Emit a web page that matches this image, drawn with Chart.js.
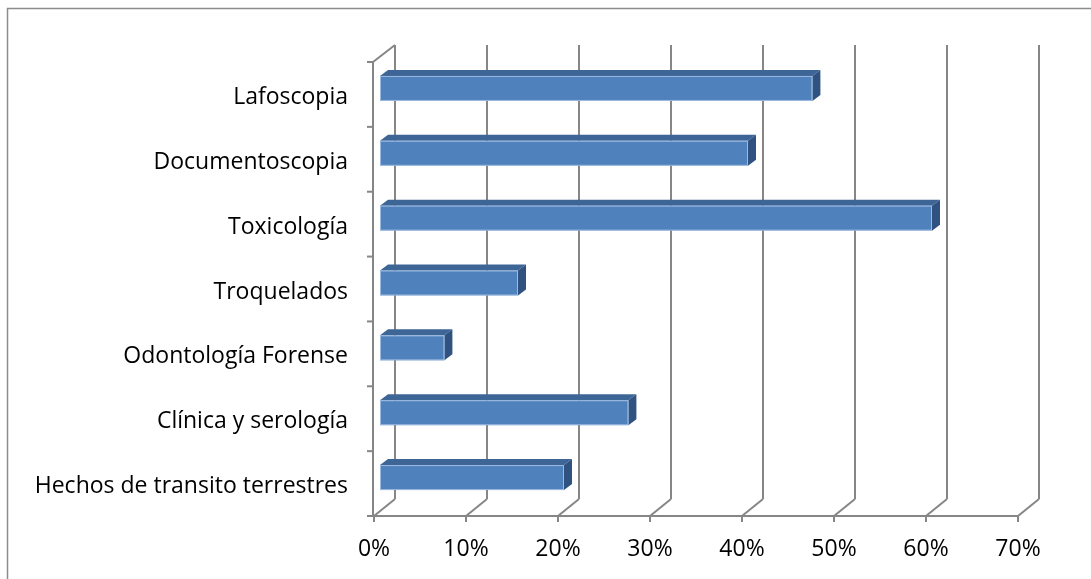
<!DOCTYPE html>
<html><head><meta charset="utf-8">
<script src="https://cdn.jsdelivr.net/npm/chart.js@4/dist/chart.umd.min.js"></script>
<style>html,body{margin:0;padding:0;background:#fff}canvas{display:block}</style>
</head><body>
<canvas id="c" width="1091" height="579"></canvas>
<script>
const categories = ["Lafoscopia", "Documentoscopia", "Toxicología", "Troquelados", "Odontología Forense", "Clínica y serología", "Hechos de transito terrestres"];
const values = [47, 40, 60, 15, 7, 27, 20];
const xTickValues = [0, 10, 20, 30, 40, 50, 60, 70];

const WALL = {dx: 21, dy: -17};
const BAR_OFF = {dx: 6, dy: -6};
const BAR_DEPTH = {dx: 8, dy: -6};
const GRID = '#868686';
const FONT = {family: 'Open Sans', size: 23};

function line(ctx, x1, y1, x2, y2) {
  ctx.beginPath(); ctx.moveTo(x1, y1); ctx.lineTo(x2, y2); ctx.stroke();
}

const threeD = {
  id: 'threeD',
  beforeDraw(chart) {
    const ctx = chart.ctx;
    ctx.save();
    ctx.fillStyle = '#fff';
    ctx.fillRect(0, 0, chart.width, chart.height);
    ctx.strokeStyle = '#8c8c8c';
    ctx.lineWidth = 1.5;
    ctx.strokeRect(7.5, 8.5, chart.width + 20, chart.height + 20);
    ctx.restore();
  },
  beforeDatasetsDraw(chart) {
    const ctx = chart.ctx, xs = chart.scales.x, ys = chart.scales.y;
    const {top, bottom, left, right} = chart.chartArea;
    ctx.save();
    ctx.strokeStyle = GRID;
    ctx.lineWidth = 2;
    xTickValues.forEach(v => {
      const px = xs.getPixelForValue(v);
      line(ctx, px + WALL.dx, top + WALL.dy, px + WALL.dx, bottom + WALL.dy);
      line(ctx, px, bottom, px + WALL.dx, bottom + WALL.dy);
      line(ctx, px, bottom, px, bottom + 6);
    });
    line(ctx, left, bottom, right, bottom);
    line(ctx, left - 1, top, left - 1, bottom);
    line(ctx, left - 1, top, left + WALL.dx, top + WALL.dy);
    for (let i = 0; i <= categories.length; i++) {
      const py = ys.getPixelForValue(i - 0.5);
      line(ctx, left - 7, py, left - 1, py);
    }
    ctx.restore();
  },
  afterDatasetsDraw(chart) {
    const ctx = chart.ctx;
    const meta = chart.getDatasetMeta(0);
    ctx.save();
    meta.data.forEach(el => {
      const p = el.getProps(['x', 'y', 'base', 'height'], true);
      const L = p.base + BAR_OFF.dx, R = p.x + BAR_OFF.dx;
      const T = p.y - p.height / 2 + BAR_OFF.dy, B = T + p.height;
      const dx = BAR_DEPTH.dx, dy = BAR_DEPTH.dy;
      ctx.fillStyle = '#3d6696';
      ctx.beginPath();
      ctx.moveTo(L, T); ctx.lineTo(R, T); ctx.lineTo(R + dx, T + dy); ctx.lineTo(L + dx, T + dy); ctx.closePath();
      ctx.fill();
      ctx.fillStyle = '#2f5281';
      ctx.beginPath();
      ctx.moveTo(R, T); ctx.lineTo(R + dx, T + dy); ctx.lineTo(R + dx, B + dy); ctx.lineTo(R, B); ctx.closePath();
      ctx.fill();
      ctx.fillStyle = '#4f81bd';
      ctx.fillRect(L, T, R - L, B - T);
      ctx.strokeStyle = 'rgba(190,210,240,0.7)';
      ctx.lineWidth = 1;
      ctx.strokeRect(L + 0.5, T + 0.5, R - L - 1, B - T - 1);
    });
    ctx.restore();
  }
};

new Chart(document.getElementById('c'), {
  type: 'bar',
  data: {
    labels: categories,
    datasets: [{
      data: values,
      backgroundColor: 'rgba(0,0,0,0)',
      borderWidth: 0,
      barPercentage: 0.385,
      categoryPercentage: 1
    }]
  },
  options: {
    indexAxis: 'y',
    responsive: false,
    animation: false,
    layout: {padding: {top: 62, right: 73, left: 0, bottom: 0}},
    plugins: {legend: {display: false}, tooltip: {enabled: false}},
    scales: {
      x: {
        min: 0, max: 70,
        afterBuildTicks(scale) { scale.ticks = xTickValues.map(v => ({value: v})); },
        afterFit(scale) { scale.height = 63; },
        grid: {display: false, drawTicks: false},
        border: {display: false},
        ticks: {
          padding: 20,
          color: '#000',
          font: FONT,
          callback: v => v + '%'
        }
      },
      y: {
        afterFit(scale) { scale.width = 374; },
        grid: {display: false, drawTicks: false},
        border: {display: false},
        ticks: {padding: 26, labelOffset: 3, color: '#000', font: FONT}
      }
    }
  },
  plugins: [threeD]
});
</script>
</body></html>
